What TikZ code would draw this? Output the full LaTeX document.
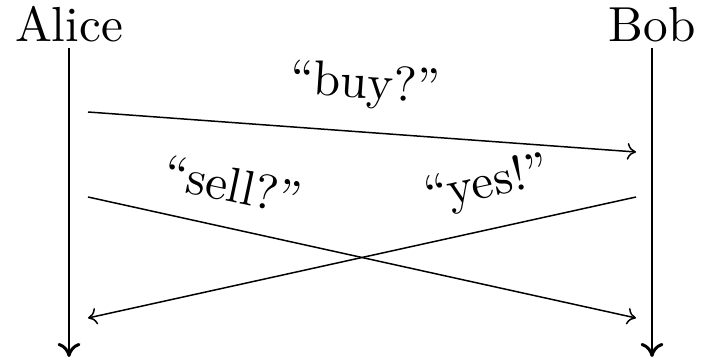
\documentclass[tikz,border=0pt]{standalone}
\usepackage{fontspec}
\setmainfont{lmroman10-regular.otf}
\usetikzlibrary{arrows.meta, positioning}

\tikzset{
  actor/.style={inner sep=3pt, font=\fontsize{28}{34}\selectfont},
  msglabel/.style={inner sep=0pt, font=\fontsize{28}{34}\selectfont},
  lifeline/.style={line width=1.7pt, -{Computer Modern Rightarrow[length=8pt, width=13pt]}},
  msg/.style={line width=0.85pt, -{Computer Modern Rightarrow[length=5pt, width=9.5pt]}}
}

\begin{document}
\begin{tikzpicture}[x=0.02cm, y=-0.02cm]
        \useasboundingbox (0,0) rectangle (701,361);
        % teilnehmer
            \node[actor, anchor=south] (alice) at (69,48) {Alice};
            \node[actor, anchor=south] (bob) at (652,48) {Bob};
            \coordinate (aliceend) at (69,357);
            \coordinate (bobend) at (652,357);
            \draw[lifeline] (alice.south) -- (aliceend);
            \draw[lifeline] (bob.south) -- (bobend);
        % nachrichten
            \coordinate (buyfrom) at (88,112);
            \coordinate (buyto) at (636,152);
            \coordinate (sellfrom) at (88,197);
            \coordinate (sellto) at (636,318);
            \coordinate (yesfrom) at (636,197);
            \coordinate (yesto) at (88,318);
            \draw[msg] (buyfrom) -- (buyto);
            \draw[msg] (sellfrom) -- (sellto);
            \draw[msg] (yesfrom) -- (yesto);
            \node[msglabel, rotate=-4] (buy) at (365,86) {``buy?''};
            \node[msglabel, rotate=-12] (sell) at (233,185) {``sell?''};
            \node[msglabel, rotate=12] (yes) at (487,185) {``yes!''};
        \end{tikzpicture}
\end{document}
